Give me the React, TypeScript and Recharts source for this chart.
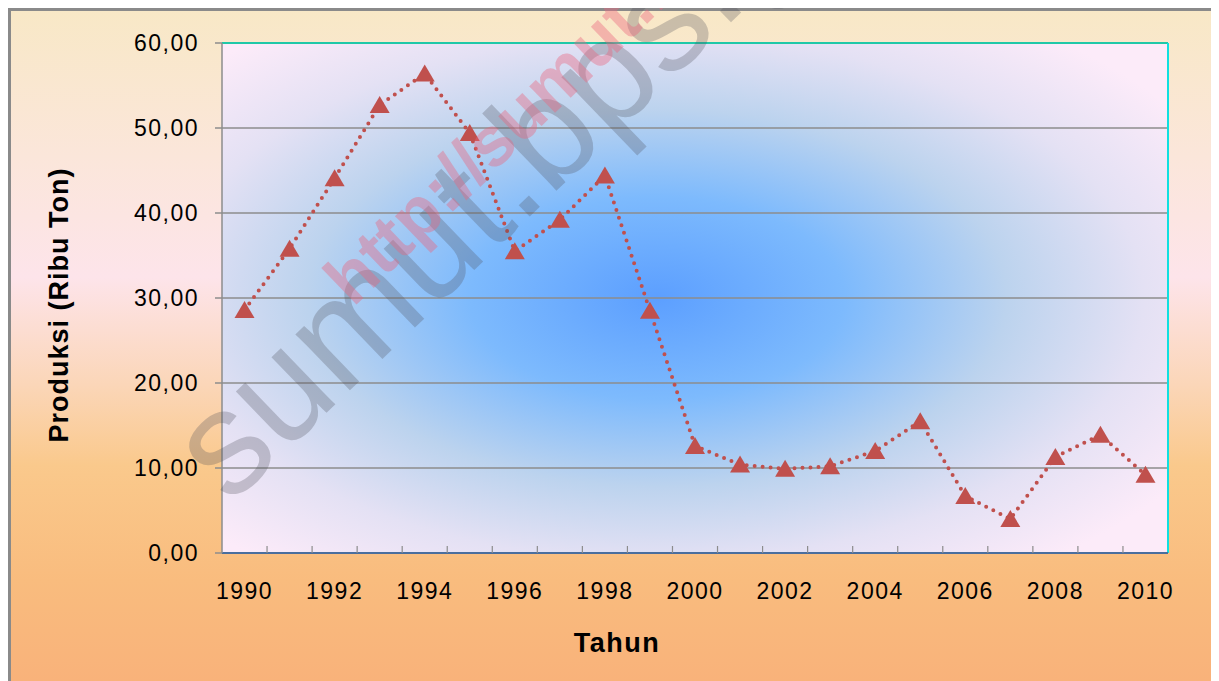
import React from 'react'
import { CartesianGrid, Label, Line, LineChart, ReferenceLine, XAxis, YAxis } from 'recharts'

const tahun = [1990, 1991, 1992, 1993, 1994, 1995, 1996, 1997, 1998, 1999, 2000, 2001, 2002, 2003, 2004, 2005, 2006, 2007, 2008, 2009, 2010]
const produksi = [28.6, 35.8, 44.1, 52.7, 56.4, 49.4, 35.5, 39.2, 44.4, 28.5, 12.6, 10.4, 9.9, 10.2, 12.0, 15.5, 6.7, 4.0, 11.3, 13.9, 9.2]
const tahunLabel = [1990, 1992, 1994, 1996, 1998, 2000, 2002, 2004, 2006, 2008, 2010]
const yTicks = [0, 10, 20, 30, 40, 50, 60]

const data = tahun.map((t, i) => ({ tahun: t, produksi: produksi[i] }))
// label ticks + tick marks between the years
const xTicks = [...tahunLabel, ...tahun.slice(1).map(t => t - 0.5)].sort((a, b) => a - b)

const MERAH = '#C0504D'
const FONT = '"Liberation Sans", Arial, sans-serif'

const XTick = (props: any) => {
    const { x, y, payload } = props
    const v = payload.value
    if (Number.isInteger(v)) {
        return (
            <text x={x} y={y + 46} textAnchor='middle' fontSize={23} letterSpacing={1.5} fill='#000' fontFamily={FONT}>
                {v}
            </text>
        )
    }
    return <line x1={x} x2={x} y1={y} y2={y - 7} stroke='#8c8c8c' strokeWidth={1.2} />
}

const Segitiga = (props: any) => {
    const { cx, cy, index } = props
    if (cx == null || cy == null) return <g key={index} />
    return <path key={index} d={`M${cx},${cy - 9} L${cx + 10},${cy + 8} L${cx - 10},${cy + 8} Z`} fill={MERAH} />
}

const App: React.FC = () => {
    return (
        <div
            style={{
                position: 'relative',
                width: 1211,
                height: 673,
                background: 'linear-gradient(to bottom, #F8E8C6 0%, #FBE6DA 22%, #FDE4EA 40%, #FBD6B8 56%, #FAC98C 68%, #F9BC7E 85%, #F9B27A 100%)',
                boxShadow: 'inset 3px 3px 0 #8a8a8a',
                overflow: 'hidden',
            }}
        >
            <LineChart width={1211} height={673} data={data} margin={{ top: 35, right: 51, bottom: 0, left: 0 }}>
                <defs>
                    <radialGradient id='plotBg' cx='0.46' cy='0.5' r='0.66' fx='0.46' fy='0.5'>
                        <stop offset='0%' stopColor='#5C9FFF' />
                        <stop offset='30%' stopColor='#7DBAFD' />
                        <stop offset='56%' stopColor='#BCD3EE' />
                        <stop offset='78%' stopColor='#E4E1F4' />
                        <stop offset='100%' stopColor='#FCEBF9' />
                    </radialGradient>
                </defs>
                <CartesianGrid vertical={false} stroke='#8c8c8c' strokeWidth={1.5} fill='url(#plotBg)' fillOpacity={1} />
                <XAxis
                    dataKey='tahun'
                    type='number'
                    domain={[1989.5, 2010.5]}
                    ticks={xTicks}
                    interval={0}
                    height={128}
                    tickSize={0}
                    tickMargin={0}
                    tickLine={false}
                    tick={<XTick />}
                    axisLine={{ stroke: '#4A6E9E', strokeWidth: 2 }}
                >
                    <Label
                        content={(p: any) => {
                            const vb = p.viewBox
                            return (
                                <text x={vb.x + 395} y={vb.y + 99} textAnchor='middle' fontSize={27} fontWeight='bold' letterSpacing={1.5} fontFamily={FONT} fill='#000'>
                                    Tahun
                                </text>
                            )
                        }}
                    />
                </XAxis>
                <YAxis
                    domain={[0, 60]}
                    ticks={yTicks}
                    interval={0}
                    width={214}
                    tickSize={7}
                    tickMargin={16}
                    tickFormatter={(v: number) => v.toFixed(2).replace('.', ',')}
                    tick={{ fontSize: 23, fill: '#000', fontFamily: FONT, letterSpacing: 1.5 }}
                    axisLine={{ stroke: '#8c8c8c', strokeWidth: 1.5 }}
                    tickLine={{ stroke: '#8c8c8c', strokeWidth: 1.5 }}
                >
                    <Label
                        content={(p: any) => {
                            const vb = p.viewBox
                            const x = vb.x + 51
                            const y = vb.y + vb.height / 2 + 7
                            return (
                                <text
                                    x={x}
                                    y={y}
                                    transform={`rotate(-90 ${x} ${y})`}
                                    textAnchor='middle'
                                    dominantBaseline='central'
                                    fontSize={27}
                                    fontWeight='bold'
                                    letterSpacing={1}
                                    fontFamily={FONT}
                                    fill='#000'
                                >
                                    Produksi (Ribu Ton)
                                </text>
                            )
                        }}
                    />
                </YAxis>
                <ReferenceLine y={60} stroke='#20C8A8' strokeWidth={2} />
                <ReferenceLine x={2010.5} stroke='#10E0E0' strokeWidth={2} />
                <Line
                    type='linear'
                    dataKey='produksi'
                    stroke={MERAH}
                    strokeWidth={4}
                    strokeDasharray='0 8'
                    strokeLinecap='round'
                    dot={<Segitiga />}
                    activeDot={false}
                    isAnimationActive={false}
                />
            </LineChart>
            <svg width={1211} height={673} style={{ position: 'absolute', left: 0, top: 0, pointerEvents: 'none' }}>
                <text x={222} y={498} transform='rotate(-44 222 498)' fontSize={148} fontFamily={FONT} fill='rgba(80,80,90,0.28)'>
                    sumut.bps.go.id
                </text>
                <text x={345} y={300} transform='rotate(-44 345 300)' fontSize={70} fontWeight='bold' fontFamily={FONT} fill='rgba(235,100,125,0.4)'>
                    http://sumut.bps.go.id
                </text>
            </svg>
        </div>
    )
}

export default App
